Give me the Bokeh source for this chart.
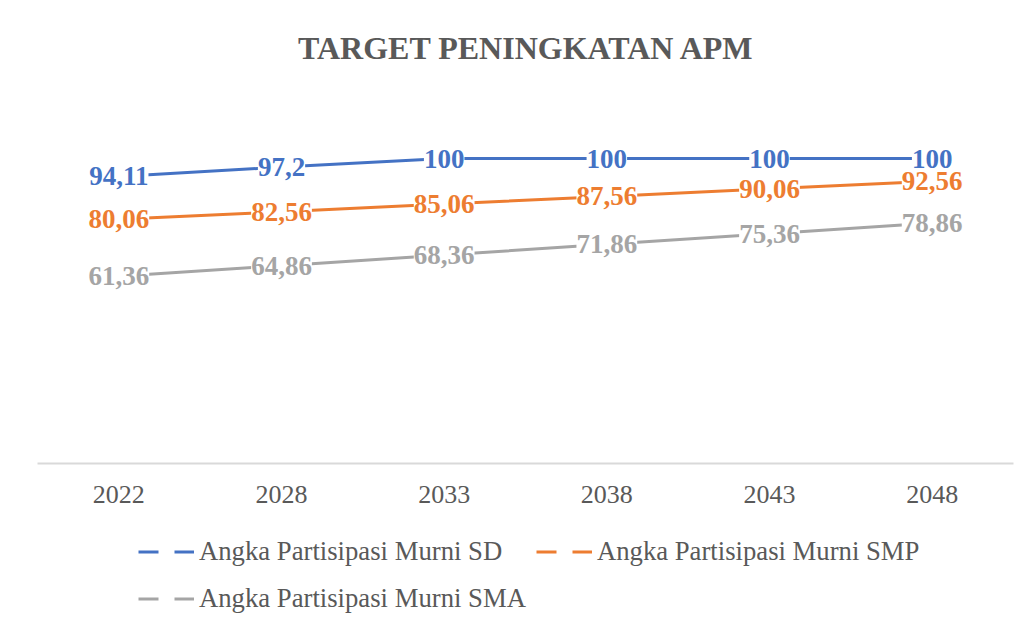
import math
from bokeh.plotting import figure
from bokeh.layouts import column
from bokeh.models import ColumnDataSource, FactorRange, Range1d, Legend, LegendItem, Label
from bokeh.core.properties import value
from bokeh.embed import file_html
from bokeh.resources import INLINE

years = ["2022", "2028", "2033", "2038", "2043", "2048"]
sd = [94.11, 97.2, 100, 100, 100, 100]
smp = [80.06, 82.56, 85.06, 87.56, 90.06, 92.56]
sma = [61.36, 64.86, 68.36, 71.86, 75.36, 78.86]
names = ["Angka Partisipasi Murni SD", "Angka Partisipasi Murni SMP", "Angka Partisipasi Murni SMA"]
colors = ["#4472C4", "#ED7D31", "#A5A5A5"]
title_text = "TARGET PENINGKATAN APM"

FONT = "Liberation Serif"
GRAY = "#595959"

def fmt(v):
    return f"{v:g}".replace(".", ",")

def strip(h):
    f = figure(width=1032, height=h, x_range=Range1d(0, 1032), y_range=Range1d(0, h),
               output_backend="svg", toolbar_location=None, x_axis_location=None,
               y_axis_location=None, min_border=0)
    f.outline_line_color = None
    f.xgrid.grid_line_color = None
    f.ygrid.grid_line_color = None
    f.border_fill_color = "white"
    return f

# title strip
head = strip(90)
head.add_layout(Label(x=517, y=90 - 47, text=title_text, text_align="center",
                      text_baseline="middle", text_font=FONT, text_font_size="32px",
                      text_font_style="bold", text_color=GRAY))

p = figure(frame_width=976, frame_height=366, x_range=FactorRange(*years, range_padding=0),
           y_range=Range1d(0, 120), output_backend="svg", toolbar_location=None,
           y_axis_location=None, min_border_left=37, min_border_right=19,
           min_border_top=7, min_border_bottom=60)
p.outline_line_color = None
p.xgrid.grid_line_color = None
p.ygrid.grid_line_color = None
p.background_fill_color = "white"
p.border_fill_color = "white"

ax = p.xaxis[0]
ax.axis_line_color = "#D9D9D9"
ax.axis_line_width = 2
ax.major_tick_line_color = None
ax.minor_tick_line_color = None
ax.major_label_text_font = FONT
ax.major_label_text_font_size = "26px"
ax.major_label_text_color = GRAY
ax.major_label_standoff = 16

# legend strip below the chart
leg = strip(103)

items = []
for name, vals, col in zip(names, [sd, smp, sma], colors):
    src = ColumnDataSource(dict(x=years, y=vals, t=[fmt(v) for v in vals]))
    p.line("x", "y", source=src, line_color=col, line_width=3)
    p.text("x", "y", text="t", source=src, text_align="center", text_baseline="middle",
           text_font=value(FONT), text_font_size="27px", text_font_style="bold",
           text_color=col, background_fill_color="white")
    dummy = leg.line([0, 1], [math.nan, math.nan], line_color=col, line_width=3, line_dash="20 16")
    items.append(LegendItem(label=name, renderers=[dummy]))

legend = Legend(items=items, orientation="horizontal", ncols=2, location=(101, 9),
                margin=0, padding=6, spacing=10, glyph_width=56, glyph_height=37,
                label_height=37, label_standoff=5, label_text_font=FONT,
                label_text_font_size="26.7px", label_text_color=GRAY,
                border_line_color=None, background_fill_alpha=0)
leg.add_layout(legend, "center")

layout = column(head, p, leg, spacing=0)
open("out.html", "w").write(file_html(layout, INLINE))
